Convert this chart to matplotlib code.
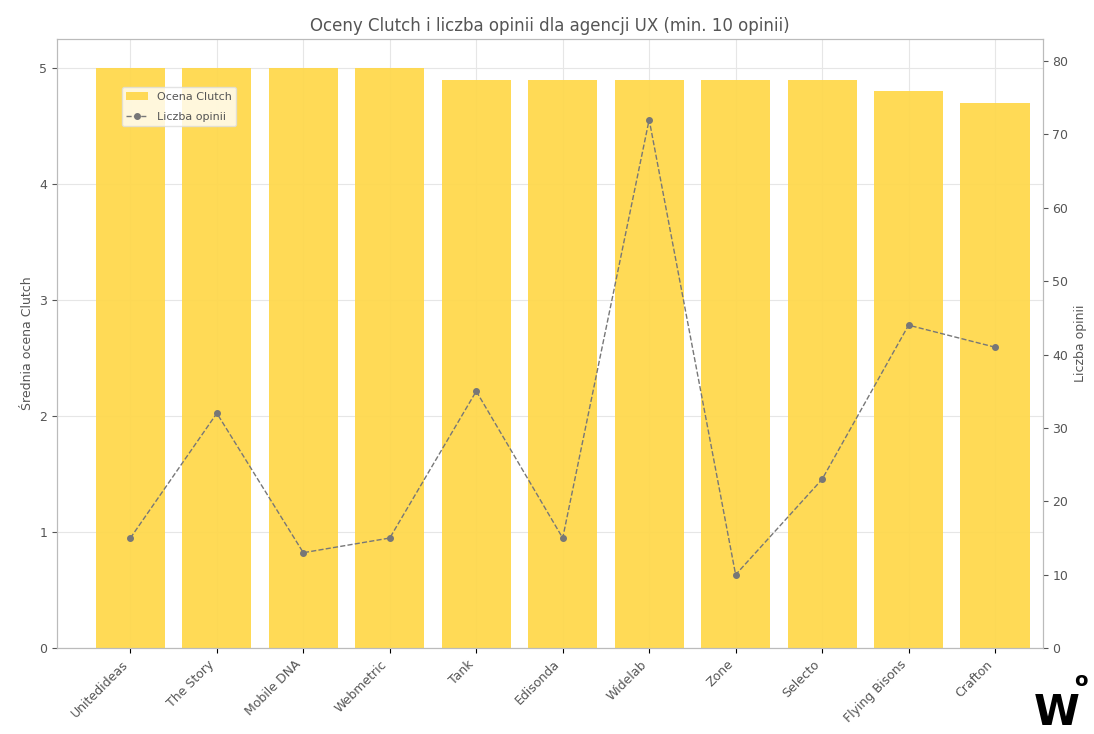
import numpy as np
import matplotlib.pyplot as plt

agencies = ['Unitedideas', 'The Story', 'Mobile DNA', 'Webmetric', 'Tank',
            'Edisonda', 'Widelab', 'Zone', 'Selecto', 'Flying Bisons', 'Crafton']
ratings = [5.0, 5.0, 5.0, 5.0, 4.9, 4.9, 4.9, 4.9, 4.9, 4.8, 4.7]
reviews = [15, 32, 13, 15, 35, 15, 72, 10, 23, 44, 41]

plt.rcParams['font.family'] = 'DejaVu Sans'
txt = '#555555'

fig, ax1 = plt.subplots(figsize=(10.94, 7.34), dpi=100)
fig.subplots_adjust(left=0.052, right=0.953, top=0.947, bottom=0.117)

x = np.arange(len(agencies))
bars = ax1.bar(x, ratings, width=0.8, color='#FFD84D', alpha=0.95,
               label='Ocena Clutch', zorder=2)
ax1.set_ylim(0, 5.25)
ax1.set_xlim(-0.85, 10.55)
ax1.set_ylabel('Średnia ocena Clutch', color=txt, fontsize=9)
ax1.set_xticks(x)
ax1.set_xticklabels(agencies, rotation=45, ha='right', fontsize=9, color=txt)
ax1.tick_params(axis='y', colors=txt, labelsize=9)
ax1.grid(True, color='#e6e6e6', linewidth=0.8, zorder=0)
ax1.set_axisbelow(True)

ax2 = ax1.twinx()
line, = ax2.plot(x, reviews, linestyle='--', marker='o', markersize=4,
                 color='#777777', linewidth=1, label='Liczba opinii')
ax2.set_ylim(0, 83)
ax2.set_ylabel('Liczba opinii', color=txt, fontsize=9)
ax2.tick_params(axis='y', colors=txt, labelsize=9)

for ax in (ax1, ax2):
    for s in ax.spines.values():
        s.set_color('#bbbbbb')

ax1.set_title('Oceny Clutch i liczba opinii dla agencji UX (min. 10 opinii)',
              color=txt, fontsize=12)

ax1.legend([bars, line], ['Ocena Clutch', 'Liczba opinii'], loc='upper left',
           bbox_to_anchor=(0.06, 0.93), fontsize=8, labelcolor=txt,
           framealpha=0.8, edgecolor='#dddddd', labelspacing=0.9)

# watermark logo
fig.text(0.945, 0.012, 'W', fontsize=30, fontweight='bold', color='black')
fig.text(0.982, 0.066, 'o', fontsize=14, fontweight='bold', color='black')

fig.savefig('out.png', dpi=100)
